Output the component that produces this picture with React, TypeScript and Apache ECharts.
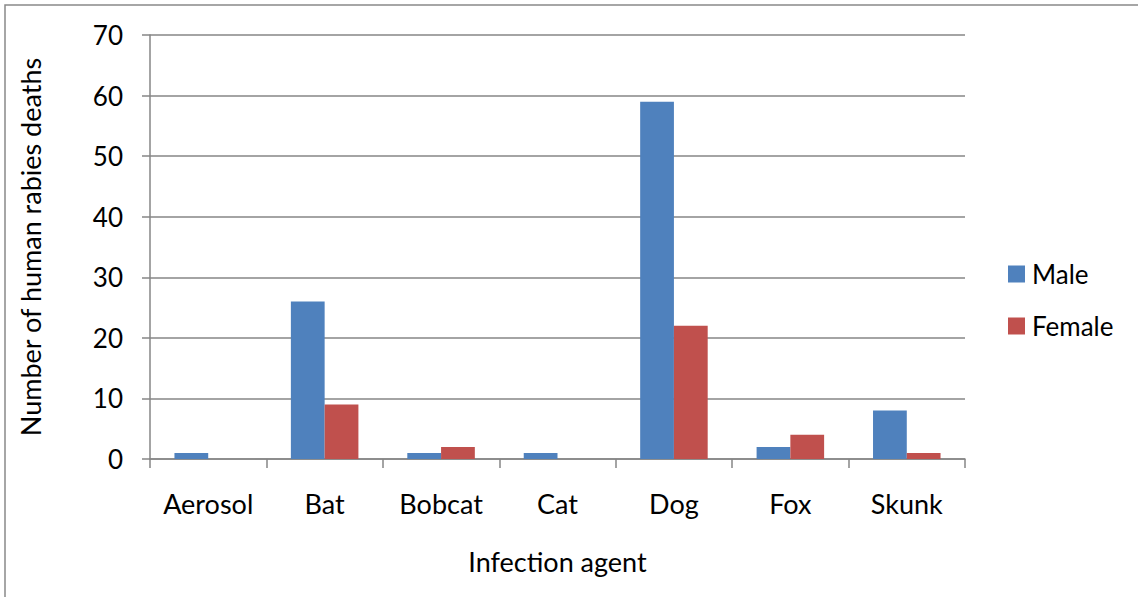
import React, { useEffect, useRef } from "react";
import * as echarts from "echarts";

const categories = ["Aerosol", "Bat", "Bobcat", "Cat", "Dog", "Fox", "Skunk"];
const maleValues = [1, 26, 1, 1, 59, 2, 8];
const femaleValues = [0, 9, 2, 0, 22, 4, 1];
const yTicks = { min: 0, max: 70, interval: 10 };

const FONT = "Lato, 'Open Sans', sans-serif";
const GRID = "#868686";
const FS = 27;

export default function App() {
  const ref = useRef<HTMLDivElement>(null);
  useEffect(() => {
    if (!ref.current) return;
    const chart = echarts.init(ref.current, undefined, { renderer: "svg" });
    chart.setOption({
      animation: false,
      backgroundColor: "#ffffff",
      textStyle: { fontFamily: FONT },
      graphic: [
        {
          type: "rect",
          shape: { x: 5, y: 5, width: 1200, height: 700 },
          style: { fill: "none", stroke: "#898989", lineWidth: 1.5 },
          silent: true,
        },
      ],
      grid: { left: 150, right: 173, top: 35, bottom: 138 },
      legend: {
        orient: "vertical",
        left: 1003,
        top: 254,
        itemWidth: 17,
        itemHeight: 17,
        itemGap: 22,
        icon: "rect",
        textStyle: { fontFamily: FONT, fontSize: FS - 1, color: "#000", lineHeight: 30, padding: [0, 0, 0, 2] },
        data: ["Male", "Female"],
      },
      xAxis: {
        type: "category",
        data: categories,
        name: "Infection agent",
        nameLocation: "middle",
        nameGap: 89,
        nameTextStyle: { fontFamily: FONT, fontSize: FS, color: "#000" },
        axisLine: { show: true, lineStyle: { color: GRID, width: 1.5 } },
        axisTick: { show: true, length: 9, lineStyle: { color: GRID, width: 1.5 } },
        axisLabel: { fontFamily: FONT, fontSize: FS, color: "#000", margin: 31, interval: 0, hideOverlap: false },
      },
      yAxis: {
        type: "value",
        min: yTicks.min,
        max: yTicks.max,
        interval: yTicks.interval,
        name: "Number of human rabies deaths",
        nameLocation: "middle",
        nameGap: 106,
        nameTextStyle: { fontFamily: FONT, fontSize: FS, color: "#000" },
        axisLine: { show: true, lineStyle: { color: GRID, width: 1.5 } },
        axisTick: { show: true, length: 8, lineStyle: { color: GRID, width: 1.5 } },
        axisLabel: { fontFamily: FONT, fontSize: FS - 1, color: "#000", margin: 27 },
        splitLine: { show: true, lineStyle: { color: GRID, width: 1.5 } },
      },
      series: [
        {
          name: "Male",
          type: "bar",
          data: maleValues,
          itemStyle: { color: "#4F81BD" },
          barGap: "0%",
          barCategoryGap: "42%",
        },
        {
          name: "Female",
          type: "bar",
          data: femaleValues,
          itemStyle: { color: "#C0504D" },
          barGap: "0%",
          barCategoryGap: "42%",
        },
      ],
    });
    return () => chart.dispose();
  }, []);
  return (
    <div
      ref={ref}
      style={{ position: "fixed", left: 0, top: 0, width: 1138, height: 597 }}
    />
  );
}
